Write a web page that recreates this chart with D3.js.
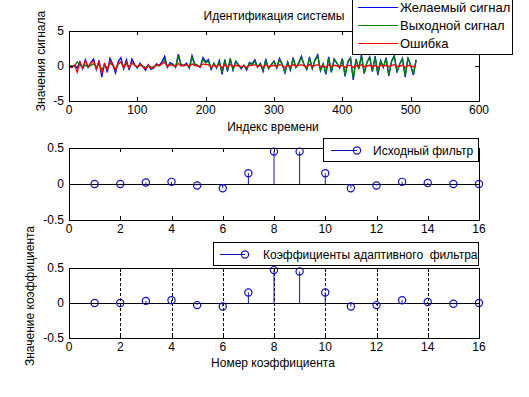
<!DOCTYPE html>
<html><head><meta charset="utf-8">
<script src="https://cdn.jsdelivr.net/npm/d3@7"></script>
<style>
body{margin:0;background:#fff;}
text{font-family:"Liberation Sans",Arial,sans-serif;fill:#000;}
</style></head>
<body><svg id="c" width="529" height="397"></svg>
<script>
// ---- data ----
const sampleIndex = d3.range(0, 512, 4);
const desired = [
0.0,-0.2,0.1,-0.3,0.6,-0.4,0.9,-0.2,0.5,1.0,-0.5,0.8,-1.6,0.4,-0.9,1.1,
0.3,-1.0,0.6,1.2,-0.4,0.9,-0.6,1.0,0.2,-0.3,0.4,-0.1,-0.6,0.2,-0.5,-0.3,
0.3,0.1,0.6,1.4,-0.2,0.5,0.3,-0.2,1.7,0.2,0.1,0.4,-0.3,1.5,0.3,0.1,
-0.2,1.2,0.6,0.9,-0.5,0.4,-0.3,0.8,-1.2,0.9,-0.8,1.1,-0.6,0.7,0.2,-0.4,
0.1,-0.6,0.5,0.3,0.9,-0.2,0.4,-0.8,1.0,-0.4,0.2,0.7,-0.3,1.1,0.3,-1.0,
0.6,-0.6,1.2,-0.2,0.4,1.4,0.2,-0.5,1.3,-0.4,0.9,1.6,-0.7,0.3,-1.2,1.3,
-0.9,1.0,0.4,-0.3,1.1,-1.5,0.6,1.2,-2.0,1.0,-0.4,1.6,-1.1,0.5,1.3,-0.8,
1.4,-1.3,0.8,-0.2,1.2,-1.4,0.7,1.5,-0.9,0.3,1.1,-1.6,1.2,0.1,-1.3,0.9];
const output = [
0.0,0.0,0.0,0.6,0.1,-0.1,0.1,-0.1,0.1,0.3,-0.1,0.2,-0.5,0.1,-0.3,0.4,
0.1,-0.4,0.2,0.6,-0.1,0.4,-0.3,0.5,0.1,-0.1,0.1,0.0,-0.2,0.1,-0.2,-0.1,
0.1,0.0,0.3,0.9,-0.1,0.3,0.2,-0.1,1.3,0.2,0.0,0.2,-0.2,1.2,0.2,0.1,
-0.1,0.9,0.4,0.7,-0.3,0.3,-0.2,0.6,-0.9,0.7,-0.6,0.9,-0.5,0.6,0.2,-0.3,
0.1,-0.4,0.4,0.2,0.7,-0.1,0.3,-0.6,0.8,-0.3,0.2,0.6,-0.2,0.9,0.2,-0.8,
0.5,-0.5,1.0,-0.2,0.3,1.2,0.2,-0.4,1.1,-0.3,0.8,1.4,-0.6,0.3,-1.0,1.1,
-0.8,0.9,0.4,-0.2,1.0,-1.3,0.5,1.1,-1.8,0.9,-0.3,1.4,-1.0,0.5,1.2,-0.7,
1.3,-1.1,0.7,-0.2,1.1,-1.3,0.6,1.3,-0.8,0.3,1.0,-1.4,1.1,0.1,-1.2,0.8];
const errorSig = [
0.0,-0.2,0.1,-0.9,0.5,-0.3,0.8,-0.1,0.4,0.7,-0.4,0.6,-1.1,0.3,-0.6,0.7,
0.2,-0.6,0.4,0.6,-0.3,0.5,-0.3,0.5,0.1,-0.2,0.3,-0.1,-0.4,0.1,-0.3,-0.2,
0.2,0.1,0.3,0.5,-0.1,0.2,0.1,-0.1,0.4,0.0,0.1,0.2,-0.1,0.3,0.1,0.0,
-0.1,0.3,0.2,0.2,-0.2,0.1,-0.1,0.2,-0.3,0.2,-0.2,0.2,-0.1,0.1,0.0,-0.1,
0.0,-0.2,0.1,0.1,0.2,-0.1,0.1,-0.2,0.2,-0.1,0.0,0.1,-0.1,0.2,0.1,-0.2,
0.1,-0.1,0.2,0.0,0.1,0.2,0.0,-0.1,0.2,-0.1,0.1,0.2,-0.1,0.0,-0.2,0.2,
-0.1,0.1,0.0,-0.1,0.1,-0.2,0.1,0.1,-0.2,0.1,-0.1,0.2,-0.1,0.0,0.1,-0.1,
0.1,-0.2,0.1,0.0,0.1,-0.1,0.1,0.2,-0.1,0.0,0.1,-0.2,0.1,0.0,-0.1,0.1];
const coefIndex = d3.range(1, 17);
const originalFilter = [0.0,0.0,0.02,0.03,-0.02,-0.06,0.15,0.45,0.45,0.15,-0.06,-0.02,0.03,0.015,0.0,0.0];
const adaptiveFilter = [0.0,0.0,0.03,0.04,-0.03,-0.05,0.15,0.47,0.45,0.15,-0.05,-0.03,0.04,0.015,-0.01,0.0];
const topXTicks = [0,100,200,300,400,500,600];
const topYTicks = [-5,0,5];
const coefXTicks = [0,2,4,6,8,10,12,14,16];
const coefYTicks = [-0.5,0,0.5];
const seriesNames = ["Желаемый сигнал","Выходной сигнал","Ошибка"];

const svg = d3.select("#c");
const L = 69, R = 479;
const BLUE = "#0000ff", GREEN = "#008000", RED = "#ff0000", STEM = "#1010c0";

function frame(g, x, y, xt, yt, fmtY){
  const [x0,x1] = x.range(), [y0,y1] = y.range();
  const tl = 4;
  g.append("rect").attr("x",x0).attr("y",y1).attr("width",x1-x0).attr("height",y0-y1)
    .attr("fill","none").attr("stroke","#000").attr("stroke-width",1).attr("shape-rendering","crispEdges");
  xt.forEach(t=>{
    const px = Math.round(x(t))+0.5;
    g.append("line").attr("x1",px).attr("x2",px).attr("y1",y0).attr("y2",y0-tl).attr("stroke","#000");
    g.append("line").attr("x1",px).attr("x2",px).attr("y1",y1).attr("y2",y1+tl).attr("stroke","#000");
    g.append("text").attr("x",x(t)).attr("y",y0+13).attr("text-anchor","middle").attr("font-size",12).text(t);
  });
  yt.forEach(t=>{
    const py = Math.round(y(t))+0.5;
    g.append("line").attr("x1",x0).attr("x2",x0+tl).attr("y1",py).attr("y2",py).attr("stroke","#000");
    g.append("line").attr("x1",x1).attr("x2",x1-tl).attr("y1",py).attr("y2",py).attr("stroke","#000");
    g.append("text").attr("x",x0-5).attr("y",y(t)+4).attr("text-anchor","end").attr("font-size",12).text(fmtY(t));
  });
}

// ---- top plot ----
const x1s = d3.scaleLinear().domain([0,600]).range([L,R]);
const y1s = d3.scaleLinear().domain([-5,5]).range([101,31]);
const g1 = svg.append("g");
const line1 = d3.line().x((d,i)=>x1s(sampleIndex[i])).y(d=>y1s(d));
[[desired,BLUE],[output,GREEN],[errorSig,RED]].forEach(([s,c])=>{
  g1.append("path").attr("d",line1(s)).attr("fill","none").attr("stroke",c).attr("stroke-width",1.3);
});
frame(g1, x1s, y1s, topXTicks, topYTicks, d=>d);
svg.append("text").attr("x",274).attr("y",20).attr("text-anchor","middle").attr("font-size",12).text("Идентификация системы");
svg.append("text").attr("x",273).attr("y",131).attr("text-anchor","middle").attr("font-size",12).text("Индекс времени");
svg.append("text").attr("transform","translate(45,61) rotate(-90)").attr("text-anchor","middle").attr("font-size",12).text("Значения сигнала");
// legend top
const lg = svg.append("g");
lg.append("rect").attr("x",352.5).attr("y",-8).attr("width",160).attr("height",62.5)
  .attr("fill","#fff").attr("stroke","#000");
[BLUE,GREEN,RED].forEach((c,i)=>{
  const yy = 7 + i*18;
  lg.append("line").attr("x1",358).attr("x2",398).attr("y1",yy+0.5).attr("y2",yy+0.5).attr("stroke",c).attr("stroke-width",1);
  lg.append("text").attr("x",400).attr("y",yy+5).attr("font-size",13).text(seriesNames[i]);
});

// ---- stem plots ----
function stemPlot(top, bottom, data, grid){
  const xs = d3.scaleLinear().domain([0,16]).range([L,R]);
  const ys = d3.scaleLinear().domain([-0.5,0.5]).range([bottom,top]);
  const g = svg.append("g");
  if(grid){
    coefXTicks.slice(1,-1).forEach(t=>{
      const px = Math.round(xs(t))+0.5;
      g.append("line").attr("x1",px).attr("x2",px).attr("y1",top).attr("y2",bottom)
        .attr("stroke","#000").attr("stroke-dasharray","3,2");
    });
  }
  const zy = Math.round(ys(0))+0.5;
  g.append("line").attr("x1",L).attr("x2",R).attr("y1",zy).attr("y2",zy).attr("stroke","#000");
  data.forEach((v,i)=>{
    const px = xs(coefIndex[i]);
    g.append("line").attr("x1",px).attr("x2",px).attr("y1",ys(0)).attr("y2",ys(v)).attr("stroke",STEM).attr("stroke-width",1);
    g.append("circle").attr("cx",px).attr("cy",ys(v)).attr("r",3.6).attr("fill","none").attr("stroke",STEM).attr("stroke-width",1.2);
  });
  frame(g, xs, ys, coefXTicks, coefYTicks, d=>d);
  return g;
}
stemPlot(148, 220, originalFilter, false);
stemPlot(268, 338, adaptiveFilter, true);

// middle legend
const l2 = svg.append("g");
l2.append("rect").attr("x",323.5).attr("y",138.5).attr("width",155).attr("height",23).attr("fill","#fff").attr("stroke","#000");
l2.append("line").attr("x1",331).attr("x2",357).attr("y1",150.5).attr("y2",150.5).attr("stroke",STEM);
l2.append("circle").attr("cx",357).attr("cy",150.5).attr("r",3.6).attr("fill","none").attr("stroke",STEM).attr("stroke-width",1.2);
l2.append("text").attr("x",373).attr("y",155).attr("font-size",12).text("Исходный фильтр");

// bottom legend
const l3 = svg.append("g");
l3.append("rect").attr("x",213.5).attr("y",242.5).attr("width",265).attr("height",23).attr("fill","#fff").attr("stroke","#000");
l3.append("line").attr("x1",220).attr("x2",245).attr("y1",254.5).attr("y2",254.5).attr("stroke",STEM);
l3.append("circle").attr("cx",245).attr("cy",254.5).attr("r",3.6).attr("fill","none").attr("stroke",STEM).attr("stroke-width",1.2);
l3.append("text").attr("x",263).attr("y",259).attr("font-size",12).attr("xml:space","preserve").style("white-space","pre").text("Коэффициенты адаптивного  фильтра");

svg.append("text").attr("x",273).attr("y",367).attr("text-anchor","middle").attr("font-size",12).text("Номер коэффициента");
svg.append("text").attr("transform","translate(34,296) rotate(-90)").attr("text-anchor","middle").attr("font-size",12).text("Значение коэффициента");
</script></body></html>
